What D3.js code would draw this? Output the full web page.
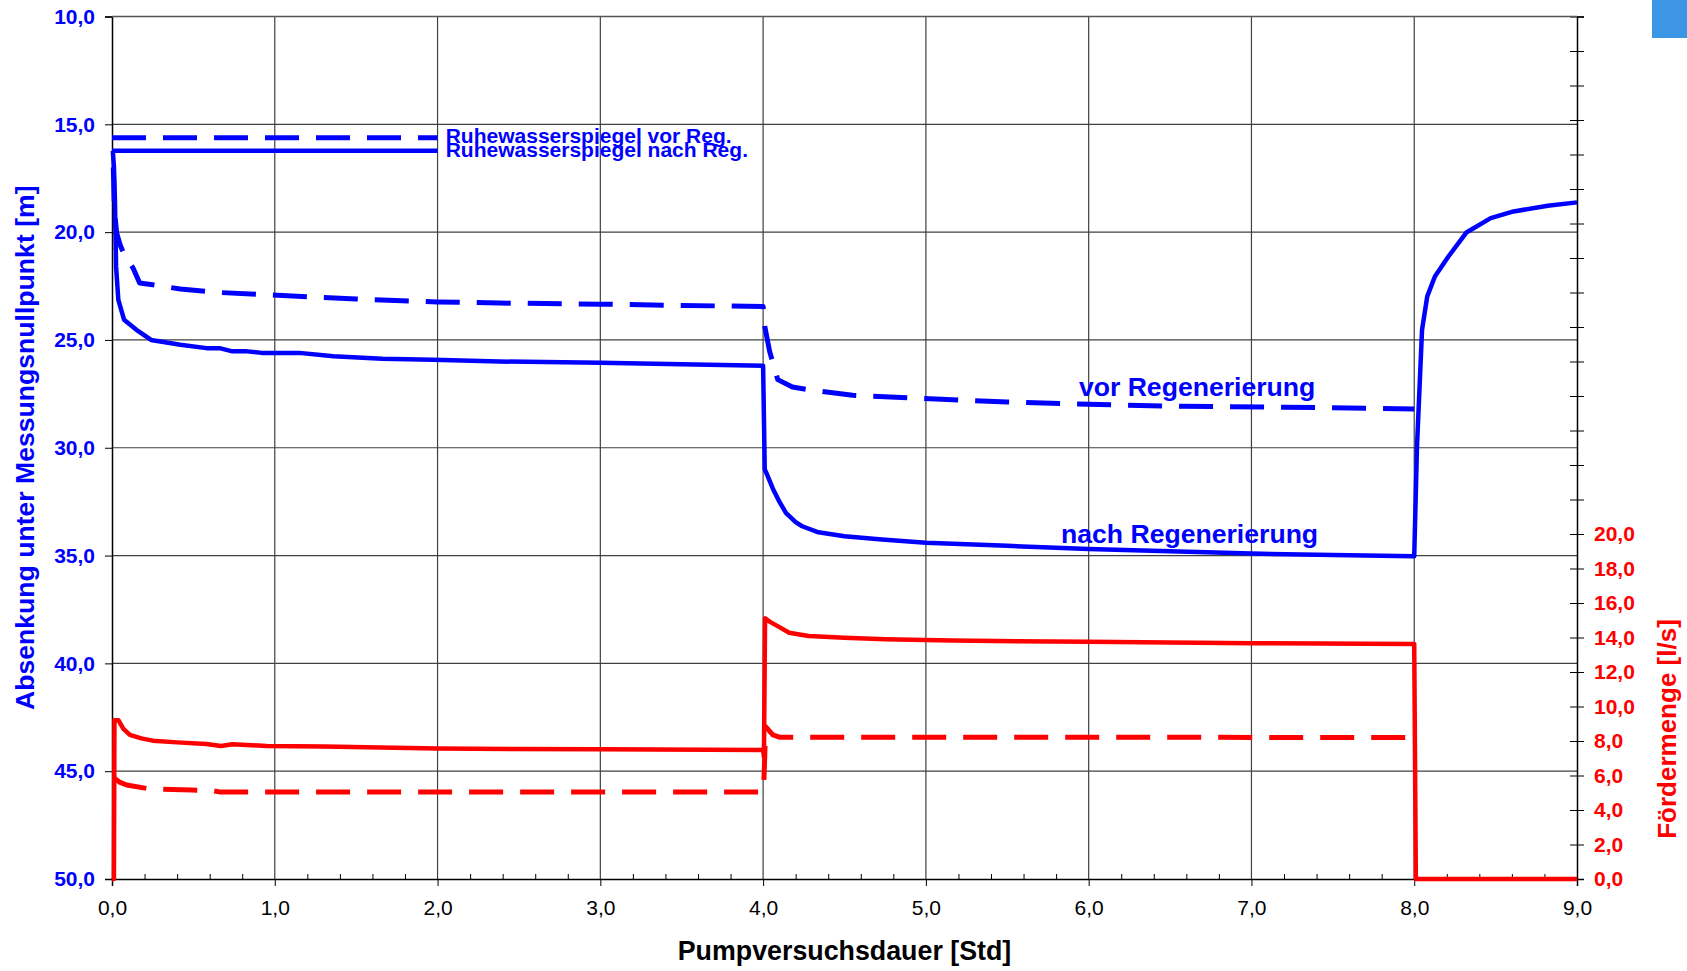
<!DOCTYPE html>
<html>
<head>
<meta charset="utf-8">
<script src="https://cdn.jsdelivr.net/npm/d3@7"></script>
<style>
  body { margin: 0; background: #fff; }
  svg { display: block; font-family: "Liberation Sans", Arial, sans-serif; }
</style>
</head>
<body>
<div id="chart"></div>
<script>
"use strict";

// Absenkung [m] vs. Pumpversuchsdauer [Std]
const nachRegDrawdown = [[0.005,16.23],[0.012,17.0],[0.018,18.5],[0.025,21.6],[0.039,23.14],[0.074,24.06],[0.15,24.53],[0.24,25.0],[0.42,25.22],[0.58,25.38],[0.66,25.38],[0.74,25.53],[0.83,25.53],[0.92,25.6],[1.15,25.6],[1.36,25.76],[1.66,25.87],[1.97,25.92],[2.38,26.0],[3.0,26.06],[3.5,26.13],[4.0,26.2],[4.01,31.0],[4.02,31.17],[4.06,31.9],[4.1,32.5],[4.14,33.02],[4.2,33.45],[4.24,33.64],[4.34,33.92],[4.5,34.1],[4.73,34.26],[5.0,34.41],[5.5,34.55],[6.0,34.69],[6.5,34.8],[7.0,34.91],[7.5,34.97],[8.0,35.03],[8.017,29.93],[8.048,24.53],[8.08,22.98],[8.127,22.06],[8.21,21.13],[8.32,20.02],[8.47,19.35],[8.61,19.04],[8.82,18.78],[9.0,18.62]];
const vorRegDrawdown = [[0.008,17.0],[0.015,19.0],[0.029,20.05],[0.05,20.6],[0.08,21.13],[0.13,21.67],[0.17,22.36],[0.25,22.44],[0.42,22.64],[0.66,22.8],[0.93,22.9],[1.5,23.1],[2.0,23.24],[2.5,23.3],[3.0,23.34],[3.5,23.4],[4.0,23.45],[4.01,24.37],[4.04,25.53],[4.09,26.84],[4.18,27.18],[4.28,27.31],[4.55,27.57],[5.06,27.74],[5.5,27.88],[5.86,27.96],[6.57,28.08],[7.2,28.12],[8.0,28.2]];

// Fördermenge [l/s]
const nachRegFlow = [[0,0],[0.012,0],[0.015,9.2],[0.04,9.2],[0.07,8.7],[0.11,8.35],[0.18,8.15],[0.25,8.02],[0.4,7.92],[0.58,7.83],[0.67,7.71],[0.74,7.81],[0.95,7.71],[1.3,7.68],[2.0,7.56],[3.0,7.52],[4.0,7.48],[4.005,7.09],[4.012,15.12],[4.04,14.92],[4.1,14.6],[4.16,14.28],[4.28,14.09],[4.5,13.98],[4.75,13.9],[5.16,13.82],[6.0,13.75],[7.0,13.67],[8.0,13.63],[8.01,0],[9.0,0]];
const vorRegFlow = [[0.015,5.84],[0.05,5.6],[0.09,5.45],[0.23,5.22],[0.49,5.16],[0.62,5.12],[0.66,5.05],[2.0,5.05],[4.0,5.05],[4.005,5.74],[4.01,7.1],[4.015,8.83],[4.06,8.35],[4.1,8.22],[6.0,8.22],[8.0,8.2]];

// Ruhewasserspiegel
const ruheVor = [[0,15.62],[2.0,15.62]];
const ruheNach = [[0,16.23],[2.0,16.23]];

const xTicks = [0,1,2,3,4,5,6,7,8,9];
const leftTicks = [10,15,20,25,30,35,40,45,50];
const rightTicks = d3.range(0, 51, 2);
const rightLabels = [0,2,4,6,8,10,12,14,16,18,20];

const width = 1687, height = 971;
const plot = { left: 112, right: 1577, top: 16.5, bottom: 879 };
const blue = "#0000ff", red = "#ff0000";
const fmt = v => d3.format(".1f")(v).replace(".", ",");

let svg = d3.select("#chart").append("svg")
  .attr("width", width)
  .attr("height", height);

var x = d3.scaleLinear().domain([0, 9]).range([plot.left, plot.right]);
var yL = d3.scaleLinear().domain([10, 50]).range([plot.top, plot.bottom]);
var yR = d3.scaleLinear().domain([0, 50]).range([plot.bottom, plot.top]);

// Grid
svg.append("g")
  .selectAll("line").data(xTicks.slice(1, -1)).join("line")
  .attr("x1", d => x(d)).attr("x2", d => x(d))
  .attr("y1", plot.top).attr("y2", plot.bottom)
  .attr("stroke", "#404040").attr("stroke-width", 1.2);
svg.append("g")
  .selectAll("line").data(leftTicks.slice(0, -1)).join("line")
  .attr("x1", plot.left).attr("x2", plot.right)
  .attr("y1", d => yL(d)).attr("y2", d => yL(d))
  .attr("stroke", "#404040").attr("stroke-width", 1.2);

// X axis
let xAxis = svg.append("g")
  .attr("transform", "translate(0," + plot.bottom + ")")
  .call(d3.axisBottom(x).tickValues(xTicks).tickFormat(fmt).tickSize(7).tickPadding(14));
xAxis.select(".domain").attr("stroke", "#000").attr("stroke-width", 1.5);
xAxis.selectAll("text").attr("font-size", "21px").attr("fill", "#000");
svg.append("g")
  .attr("transform", "translate(0," + plot.bottom + ")")
  .call(d3.axisBottom(x).tickValues(d3.range(0, 45).map(i => i / 5).filter(v => v % 1 !== 0)).tickSize(-5).tickFormat(""))
  .select(".domain").remove();

// Left axis
let leftAxis = svg.append("g")
  .attr("transform", "translate(" + plot.left + ",0)")
  .call(d3.axisLeft(yL).tickValues(leftTicks).tickFormat(fmt).tickSize(7).tickPadding(10));
leftAxis.select(".domain").attr("stroke", "#000").attr("stroke-width", 1.5);
leftAxis.selectAll("text")
  .attr("font-size", "21px").attr("font-weight", "bold").attr("fill", blue);

// Right axis
let rightAxis = svg.append("g")
  .attr("transform", "translate(" + plot.right + ",0)")
  .call(d3.axisRight(yR).tickValues(rightTicks).tickSize(7).tickPadding(10)
    .tickFormat(d => rightLabels.includes(d) ? fmt(d) : ""));
rightAxis.select(".domain").attr("stroke", "#000").attr("stroke-width", 1.5);
rightAxis.selectAll(".tick line").attr("x1", -7);
rightAxis.selectAll("text")
  .attr("font-size", "21px").attr("font-weight", "bold").attr("fill", red);

// Top border
svg.append("line")
  .attr("x1", plot.left).attr("x2", plot.right)
  .attr("y1", plot.top).attr("y2", plot.top)
  .attr("stroke", "#555").attr("stroke-width", 1.5);

// Series
var lineL = d3.line().x(d => x(d[0])).y(d => yL(d[1]));
var lineR = d3.line().x(d => x(d[0])).y(d => yR(d[1]));

function drawSeries(data, gen, color, dashed, w) {
  svg.append("path")
    .datum(data)
    .attr("d", gen)
    .attr("fill", "none")
    .attr("stroke", color)
    .attr("stroke-width", w)
    .attr("stroke-linejoin", "round")
    .attr("stroke-dasharray", dashed ? "34,17" : null);
}

drawSeries(ruheVor, lineL, blue, true, 5);
drawSeries(ruheNach, lineL, blue, false, 4.5);
drawSeries(vorRegFlow, lineR, red, true, 5);
drawSeries(nachRegFlow, lineR, red, false, 4.5);
drawSeries(vorRegDrawdown, lineL, blue, true, 5);
drawSeries(nachRegDrawdown, lineL, blue, false, 4.5);

// Annotations
function note(t, v, txt, size) {
  svg.append("text")
    .attr("x", x(t)).attr("y", yL(v))
    .attr("font-size", size + "px")
    .attr("font-weight", "bold")
    .attr("fill", blue)
    .text(txt);
}
note(2.05, 15.88, "Ruhewasserspiegel vor Reg.", 21);
note(2.05, 16.5, "Ruhewasserspiegel nach Reg.", 21);
note(5.94, 27.59, "vor Regenerierung", 26.6);
note(5.83, 34.41, "nach Regenerierung", 26.6);

// Axis titles
svg.append("text")
  .attr("x", (plot.left + plot.right) / 2).attr("y", 960)
  .attr("text-anchor", "middle")
  .attr("font-size", "26.8px").attr("font-weight", "bold").attr("fill", "#000")
  .text("Pumpversuchsdauer [Std]");
svg.append("text")
  .attr("transform", "translate(34," + (plot.top + plot.bottom) / 2 + ") rotate(-90)")
  .attr("text-anchor", "middle")
  .attr("font-size", "26.6px").attr("font-weight", "bold").attr("fill", blue)
  .text("Absenkung unter Messungsnullpunkt [m]");
svg.append("text")
  .attr("transform", "translate(1676,729) rotate(-90)")
  .attr("text-anchor", "middle")
  .attr("font-size", "26px").attr("font-weight", "bold").attr("fill", red)
  .text("Fördermenge [l/s]");

// Blue corner box
svg.append("rect")
  .attr("x", 1652).attr("y", 0)
  .attr("width", 35).attr("height", 38)
  .attr("fill", "#3d95e6");
</script>
</body>
</html>
